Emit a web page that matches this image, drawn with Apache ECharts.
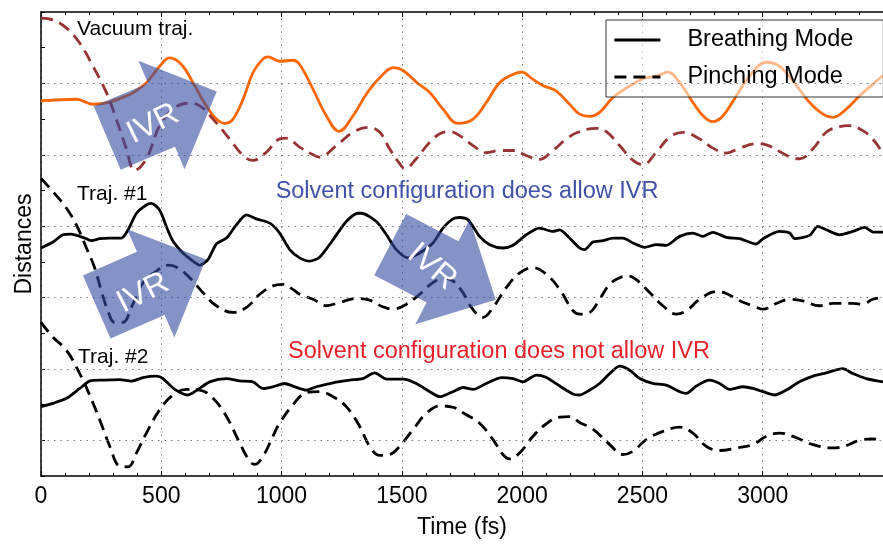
<!DOCTYPE html>
<html>
<head>
<meta charset="utf-8">
<script src="https://cdn.jsdelivr.net/npm/echarts@6/dist/echarts.min.js"></script>
<style>
  html, body { margin: 0; padding: 0; background: #fff; }
  #chart { width: 883px; height: 544px; }
</style>
</head>
<body>
<div id="chart"></div>
<script>
// Time axis (fs)
const timeMin = 0;
const timeMax = 3500;
const timeStep = 500;

// Vertical offsets of the stacked traces (arbitrary distance units)
const distMin = 0;
const distMax = 6.5;
const distStep = 0.5;
const gridLevels = [0.5, 1.5, 2.5, 3.5, 4.5, 5.5];

// Vacuum trajectory: breathing mode [time, distance]
const vacuumBreathing = [
  [0,5.254],[147,5.278],[216,5.208],[355,5.324],[438,5.51],[493,5.74],[535,5.857],[584,5.764],
  [632,5.51],[687,5.185],[729,5.0],[764,4.94],[798,5.0],[840,5.278],[881,5.649],[923,5.843],
  [943,5.871],[992,5.81],[1047,5.824],[1075,5.764],[1131,5.417],[1186,5.046],[1239,4.829],
  [1297,5.046],[1352,5.347],[1408,5.579],[1467,5.722],[1505,5.681],[1560,5.518],[1616,5.371],
  [1671,5.139],[1733,4.94],[1796,5.0],[1851,5.232],[1906,5.51],[1962,5.625],[1997,5.657],
  [2045,5.556],[2086,5.472],[2142,5.393],[2197,5.208],[2239,5.069],[2281,5.037],[2322,5.093],
  [2377,5.301],[2447,5.463],[2502,5.565],[2558,5.601],[2606,5.657],[2655,5.51],[2710,5.232],
  [2758,5.024],[2793,4.963],[2835,5.046],[2890,5.324],[2945,5.601],[3015,5.796],[3070,5.74],
  [3126,5.532],[3195,5.232],[3250,5.069],[3292,5.024],[3347,5.139],[3402,5.324],[3457,5.486],
  [3500,5.61]
];

// Vacuum trajectory: pinching mode
const vacuumPinching = [
  [0,6.413],[50,6.389],[106,6.274],[161,6.065],[216,5.74],[272,5.371],[313,5.0],[355,4.583],
  [389,4.282],[438,4.444],[493,4.907],[549,5.139],[611,5.222],[660,5.185],[715,5.0],[784,4.722],
  [840,4.49],[881,4.421],[937,4.538],[992,4.722],[1020,4.732],[1075,4.607],[1131,4.5],[1158,4.468],
  [1228,4.629],[1297,4.815],[1359,4.885],[1408,4.815],[1449,4.583],[1491,4.375],[1512,4.306],
  [1560,4.444],[1616,4.676],[1671,4.815],[1699,4.824],[1740,4.768],[1796,4.629],[1851,4.528],
  [1906,4.56],[1962,4.56],[2017,4.49],[2072,4.435],[2128,4.56],[2184,4.722],[2232,4.815],
  [2308,4.871],[2350,4.824],[2405,4.629],[2461,4.421],[2502,4.361],[2558,4.538],[2613,4.746],
  [2668,4.815],[2738,4.722],[2793,4.593],[2849,4.524],[2904,4.593],[2973,4.653],[3015,4.639],
  [3070,4.546],[3126,4.454],[3154,4.444],[3209,4.583],[3264,4.815],[3320,4.893],[3361,4.907],
  [3416,4.838],[3457,4.722],[3500,4.52]
];

// Trajectory #1: breathing mode
const traj1Breathing = [
  [0,3.194],[50,3.278],[91,3.379],[126,3.389],[161,3.357],[189,3.324],[209,3.296],[244,3.324],
  [286,3.333],[334,3.333],[362,3.449],[397,3.681],[438,3.796],[459,3.819],[493,3.726],[521,3.496],
  [549,3.288],[590,3.125],[632,3.01],[660,2.954],[694,3.032],[729,3.25],[771,3.333],[812,3.518],
  [854,3.657],[895,3.601],[951,3.542],[992,3.403],[1034,3.171],[1075,3.056],[1117,3.01],[1158,3.065],
  [1214,3.31],[1269,3.565],[1318,3.681],[1332,3.681],[1394,3.565],[1436,3.379],[1477,3.171],
  [1525,3.056],[1574,3.125],[1629,3.264],[1671,3.472],[1712,3.601],[1740,3.621],[1775,3.588],
  [1823,3.357],[1865,3.24],[1920,3.194],[1962,3.232],[2017,3.379],[2072,3.472],[2128,3.426],
  [2156,3.449],[2197,3.333],[2239,3.194],[2260,3.171],[2294,3.278],[2336,3.296],[2377,3.333],
  [2419,3.333],[2461,3.264],[2509,3.204],[2558,3.24],[2599,3.232],[2655,3.357],[2710,3.403],
  [2751,3.357],[2793,3.413],[2849,3.343],[2904,3.324],[2973,3.25],[3001,3.324],[3070,3.426],
  [3112,3.403],[3133,3.324],[3195,3.371],[3229,3.496],[3264,3.449],[3320,3.379],[3375,3.426],
  [3424,3.482],[3459,3.417],[3500,3.417]
];

// Trajectory #1: pinching mode
const traj1Pinching = [
  [0,4.167],[50,3.982],[106,3.75],[147,3.518],[189,3.194],[223,2.917],[251,2.593],[278,2.315],
  [306,2.153],[341,2.153],[376,2.361],[424,2.708],[480,2.871],[528,2.954],[569,2.917],[618,2.778],
  [673,2.569],[729,2.385],[798,2.292],[854,2.361],[909,2.546],[964,2.663],[1006,2.685],[1047,2.615],
  [1075,2.546],[1131,2.476],[1186,2.385],[1241,2.431],[1311,2.486],[1366,2.463],[1421,2.371],
  [1463,2.338],[1519,2.407],[1574,2.546],[1629,2.708],[1671,2.768],[1712,2.732],[1754,2.569],
  [1789,2.361],[1837,2.222],[1879,2.361],[1934,2.639],[1990,2.847],[2045,2.917],[2101,2.824],
  [2156,2.615],[2211,2.315],[2239,2.268],[2281,2.292],[2322,2.476],[2364,2.685],[2405,2.778],
  [2440,2.801],[2481,2.732],[2530,2.569],[2585,2.385],[2641,2.268],[2683,2.315],[2738,2.476],
  [2807,2.583],[2849,2.556],[2904,2.454],[2959,2.385],[3001,2.338],[3056,2.417],[3112,2.476],
  [3167,2.454],[3236,2.385],[3292,2.417],[3375,2.417],[3416,2.407],[3457,2.476],[3500,2.5]
];

// Trajectory #2: breathing mode
const traj2Breathing = [
  [0,0.972],[50,1.018],[106,1.088],[161,1.226],[202,1.329],[258,1.343],[327,1.351],[376,1.329],
  [424,1.379],[480,1.399],[507,1.365],[556,1.213],[611,1.135],[653,1.213],[701,1.319],[771,1.365],
  [826,1.333],[881,1.319],[923,1.226],[964,1.25],[1013,1.296],[1047,1.26],[1103,1.204],[1145,1.25],
  [1214,1.306],[1283,1.343],[1338,1.365],[1387,1.444],[1436,1.357],[1505,1.357],[1560,1.296],
  [1616,1.181],[1657,1.111],[1712,1.181],[1754,1.24],[1796,1.213],[1851,1.296],[1914,1.379],
  [1962,1.365],[2003,1.319],[2059,1.412],[2101,1.379],[2156,1.26],[2211,1.149],[2239,1.135],
  [2281,1.204],[2322,1.296],[2364,1.435],[2405,1.538],[2447,1.482],[2489,1.365],[2544,1.296],
  [2599,1.274],[2655,1.181],[2682,1.157],[2724,1.26],[2779,1.343],[2821,1.296],[2862,1.213],
  [2918,1.25],[2959,1.226],[3001,1.181],[3049,1.135],[3098,1.204],[3153,1.319],[3209,1.399],
  [3264,1.444],[3333,1.504],[3375,1.435],[3430,1.365],[3500,1.319]
];

// Trajectory #2: pinching mode
const traj2Pinching = [
  [0,2.153],[50,1.944],[106,1.76],[161,1.435],[202,1.135],[244,0.788],[286,0.417],[327,0.139],
  [362,0.129],[397,0.324],[438,0.601],[493,0.926],[549,1.135],[604,1.213],[660,1.204],[715,1.088],
  [771,0.833],[826,0.463],[867,0.208],[888,0.163],[923,0.278],[964,0.556],[992,0.74],[1047,0.996],
  [1103,1.167],[1158,1.181],[1214,1.111],[1269,0.972],[1325,0.694],[1366,0.417],[1408,0.288],
  [1449,0.301],[1491,0.417],[1546,0.649],[1602,0.879],[1657,0.982],[1712,0.963],[1768,0.857],
  [1823,0.74],[1879,0.51],[1920,0.301],[1948,0.24],[1990,0.324],[2045,0.556],[2101,0.732],
  [2156,0.824],[2197,0.833],[2239,0.75],[2294,0.657],[2364,0.44],[2419,0.301],[2461,0.347],
  [2516,0.51],[2585,0.625],[2655,0.685],[2710,0.601],[2765,0.417],[2821,0.357],[2890,0.393],
  [2959,0.44],[3015,0.556],[3070,0.601],[3126,0.556],[3209,0.44],[3292,0.393],[3347,0.426],
  [3402,0.5],[3457,0.518],[3500,0.51]
];

const legendNames = ['Breathing Mode', 'Pinching Mode'];

const FONT = '"Liberation Sans", Arial, Helvetica, sans-serif';
const DASH = [12, 7];
const GRID_DOTS = { type: [1.5, 5], color: '#7a7a7a', width: 1 };
const ARROW_FILL = 'rgba(50, 75, 160, 0.6)';

// Block arrow outline: tail centre, heading (deg), shaft length/width, head width/length
function blockArrow(cx, cy, deg, shaft, w, headW, headLen) {
  const a = deg * Math.PI / 180;
  const dx = Math.cos(a), dy = Math.sin(a), px = -dy, py = dx;
  const pt = (s, t) => [cx + dx * s + px * t, cy + dy * s + py * t];
  return [pt(0, -w / 2), pt(shaft, -w / 2), pt(shaft, -headW / 2), pt(shaft + headLen, 0),
          pt(shaft, headW / 2), pt(shaft, w / 2), pt(0, w / 2)];
}

function arrowGroup(cx, cy, deg, textX, textY, textDeg) {
  return [
    { type: 'polygon', z: 100, silent: true,
      shape: { points: blockArrow(cx, cy, deg, 59, 69, 118, 60) },
      style: { fill: ARROW_FILL } },
    { type: 'text', z: 101, silent: true, x: textX, y: textY, rotation: textDeg * Math.PI / 180,
      style: { text: 'IVR', fill: '#fff', font: '32px ' + FONT, align: 'center', verticalAlign: 'middle' } }
  ];
}

function label(text, x, y, size, color, align) {
  return { type: 'text', z: 50, silent: true, x: x, y: y,
    style: { text: text, fill: color, font: size + 'px ' + FONT, align: align || 'left', verticalAlign: 'middle' } };
}

const chart = echarts.init(document.getElementById('chart'), null, { renderer: 'canvas' });

const baseTimeAxis = {
  type: 'value', min: timeMin, max: timeMax, interval: timeStep,
  axisLine: { show: true, onZero: false, lineStyle: { color: '#000', width: 1.5 } },
  axisTick: { show: true, inside: true, length: 5, lineStyle: { color: '#000', width: 1 } },
  minorTick: { show: true, splitNumber: 5, length: 3, lineStyle: { color: '#000', width: 1 } }
};

chart.setOption({
  animation: false,
  backgroundColor: '#fff',
  textStyle: { fontFamily: FONT },
  grid: { left: 41, right: 0, top: 12, bottom: 64, containLabel: false },
  legend: {
    data: legendNames,
    orient: 'vertical',
    left: 606, top: 20,
    padding: [8, 30, 8, 7],
    itemGap: 13,
    itemWidth: 46, itemHeight: 14,
    backgroundColor: 'rgba(255,255,255,0.55)',
    borderColor: '#333', borderWidth: 1,
    selectedMode: false,
    // line-only keys: hide the marker that line series add to their legend icon
    itemStyle: { color: 'rgba(0,0,0,0)', borderWidth: 0, opacity: 0 },
    lineStyle: { width: 2.8, opacity: 1 },
    textStyle: { fontSize: 23.5, color: '#000', fontFamily: FONT, lineHeight: 24, padding: [0, 0, 0, 22] }
  },
  xAxis: [
    Object.assign({}, baseTimeAxis, {
      position: 'bottom',
      name: 'Time (fs)', nameLocation: 'middle', nameGap: 40,
      nameTextStyle: { fontSize: 23, color: '#000', fontFamily: FONT },
      axisLabel: { show: true, fontSize: 23, color: '#000', margin: 9, fontFamily: FONT,
                   showMaxLabel: false, hideOverlap: false, formatter: v => String(v) },
      splitLine: { show: true, lineStyle: GRID_DOTS }
    }),
    Object.assign({}, baseTimeAxis, {
      position: 'top',
      axisLabel: { show: false },
      splitLine: { show: false }
    })
  ],
  yAxis: {
    type: 'value', min: distMin, max: distMax, interval: distStep,
    name: 'Distances', nameLocation: 'middle', nameGap: 5,
    nameTextStyle: { fontSize: 23, color: '#000', fontFamily: FONT },
    axisLine: { show: true, onZero: false, lineStyle: { color: '#000', width: 1.5 } },
    axisTick: { show: true, inside: true, length: 4, lineStyle: { color: '#000', width: 1 } },
    axisLabel: { show: false },
    splitLine: { show: false }
  },
  series: [
    {
      name: 'Vacuum breathing', type: 'line', data: vacuumBreathing, smooth: 0.4,
      symbol: 'none', lineStyle: { color: '#ff6600', width: 2.8 }, z: 3,
      markLine: {
        silent: true, symbol: ['none', 'none'], label: { show: false }, animation: false,
        lineStyle: GRID_DOTS, emphasis: { disabled: true },
        data: gridLevels.map(v => ({ yAxis: v }))
      }
    },
    {
      name: 'Vacuum pinching', type: 'line', data: vacuumPinching, smooth: 0.4,
      symbol: 'none', lineStyle: { color: '#993333', width: 2.8, type: DASH }, z: 3
    },
    {
      name: 'Breathing Mode', type: 'line', data: traj1Breathing, smooth: 0.25,
      symbol: 'none', itemStyle: { color: '#000' }, lineStyle: { color: '#000', width: 2.8 }, z: 3
    },
    {
      name: 'Pinching Mode', type: 'line', data: traj1Pinching, smooth: 0.4,
      symbol: 'none', itemStyle: { color: '#000' }, lineStyle: { color: '#000', width: 2.8, type: DASH }, z: 3
    },
    {
      name: 'Breathing Mode', type: 'line', data: traj2Breathing, smooth: 0.25,
      symbol: 'none', itemStyle: { color: '#000' }, lineStyle: { color: '#000', width: 2.8 }, z: 3
    },
    {
      name: 'Pinching Mode', type: 'line', data: traj2Pinching, smooth: 0.4,
      symbol: 'none', itemStyle: { color: '#000' }, lineStyle: { color: '#000', width: 2.8, type: DASH }, z: 3
    }
  ],
  graphic: [
    label('Vacuum traj.', 77, 29, 21, '#000'),
    label('Traj. #1', 77, 194, 21, '#000'),
    label('Traj. #2', 78, 357, 21, '#000'),
    label('Solvent configuration does allow IVR', 467, 192, 23.5, '#3f51a8', 'center'),
    label('Solvent configuration does not allow IVR', 499, 352, 23.5, '#e8212b', 'center'),
    ...arrowGroup(107.2, 138, -23, 153, 124, 26),
    ...arrowGroup(96.7, 307, -23.6, 143, 293, 27),
    ...arrowGroup(390.2, 244.7, 27.5, 432, 267, -40)
  ]
});
</script>
</body>
</html>
